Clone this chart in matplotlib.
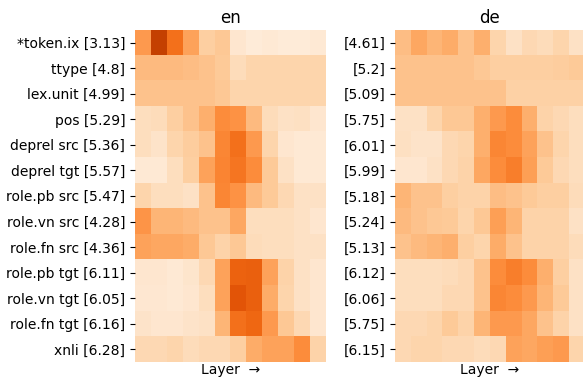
import matplotlib
matplotlib.use("Agg")
import matplotlib.pyplot as plt
import numpy as np

# row labels (probe tasks) and per-language scores
tasks = ["*token.ix", "ttype", "lex.unit", "pos", "deprel src", "deprel tgt",
         "role.pb src", "role.vn src", "role.fn src", "role.pb tgt",
         "role.vn tgt", "role.fn tgt", "xnli"]
en_scores = ["3.13", "4.8", "4.99", "5.29", "5.36", "5.57", "5.47", "4.28",
             "4.36", "6.11", "6.05", "6.16", "6.28"]
de_scores = ["4.61", "5.2", "5.09", "5.75", "6.01", "5.99", "5.18", "5.24",
             "5.13", "6.12", "6.06", "5.75", "6.15"]

# layer-wise weights (12 layers)
en_weights = np.array([
    [0.45, 0.80, 0.60, 0.42, 0.25, 0.28, 0.12, 0.08, 0.10, 0.08, 0.08, 0.10],
    [0.33, 0.33, 0.33, 0.32, 0.30, 0.27, 0.18, 0.22, 0.22, 0.22, 0.22, 0.22],
    [0.30, 0.30, 0.30, 0.30, 0.30, 0.28, 0.22, 0.22, 0.22, 0.22, 0.22, 0.22],
    [0.17, 0.18, 0.25, 0.30, 0.37, 0.50, 0.48, 0.33, 0.18, 0.15, 0.16, 0.12],
    [0.17, 0.14, 0.22, 0.26, 0.30, 0.52, 0.60, 0.45, 0.22, 0.12, 0.10, 0.10],
    [0.10, 0.10, 0.17, 0.25, 0.42, 0.53, 0.58, 0.50, 0.27, 0.15, 0.10, 0.10],
    [0.22, 0.17, 0.17, 0.15, 0.30, 0.52, 0.48, 0.33, 0.27, 0.20, 0.15, 0.15],
    [0.47, 0.35, 0.35, 0.33, 0.30, 0.30, 0.40, 0.17, 0.17, 0.17, 0.15, 0.12],
    [0.42, 0.40, 0.40, 0.38, 0.28, 0.23, 0.28, 0.18, 0.17, 0.17, 0.15, 0.15],
    [0.12, 0.12, 0.10, 0.13, 0.20, 0.42, 0.65, 0.66, 0.42, 0.23, 0.15, 0.12],
    [0.11, 0.11, 0.10, 0.12, 0.17, 0.42, 0.70, 0.66, 0.38, 0.22, 0.15, 0.12],
    [0.14, 0.12, 0.12, 0.14, 0.15, 0.35, 0.60, 0.63, 0.45, 0.28, 0.20, 0.12],
    [0.20, 0.20, 0.22, 0.18, 0.20, 0.20, 0.25, 0.38, 0.42, 0.42, 0.50, 0.23],
])
de_weights = np.array([
    [0.32, 0.40, 0.35, 0.38, 0.30, 0.37, 0.22, 0.15, 0.20, 0.18, 0.22, 0.15],
    [0.30, 0.30, 0.30, 0.30, 0.30, 0.28, 0.25, 0.25, 0.25, 0.25, 0.26, 0.27],
    [0.30, 0.30, 0.30, 0.30, 0.30, 0.30, 0.30, 0.24, 0.24, 0.24, 0.24, 0.24],
    [0.15, 0.15, 0.22, 0.28, 0.28, 0.37, 0.45, 0.50, 0.37, 0.23, 0.20, 0.17],
    [0.16, 0.14, 0.14, 0.20, 0.22, 0.37, 0.52, 0.50, 0.42, 0.30, 0.22, 0.17],
    [0.12, 0.12, 0.15, 0.20, 0.23, 0.40, 0.50, 0.55, 0.43, 0.27, 0.20, 0.17],
    [0.35, 0.30, 0.30, 0.25, 0.23, 0.23, 0.32, 0.30, 0.27, 0.25, 0.25, 0.18],
    [0.33, 0.30, 0.28, 0.27, 0.22, 0.28, 0.43, 0.35, 0.23, 0.23, 0.23, 0.15],
    [0.30, 0.33, 0.35, 0.37, 0.25, 0.22, 0.38, 0.30, 0.23, 0.23, 0.23, 0.18],
    [0.17, 0.17, 0.17, 0.18, 0.20, 0.30, 0.50, 0.55, 0.50, 0.37, 0.25, 0.15],
    [0.17, 0.17, 0.17, 0.20, 0.20, 0.30, 0.52, 0.50, 0.45, 0.35, 0.27, 0.15],
    [0.20, 0.20, 0.22, 0.27, 0.23, 0.35, 0.45, 0.45, 0.40, 0.30, 0.23, 0.15],
    [0.20, 0.22, 0.22, 0.20, 0.20, 0.18, 0.20, 0.42, 0.40, 0.43, 0.45, 0.22],
])

fig = plt.figure(figsize=(5.83, 3.80), dpi=100)
ax_en = fig.add_axes([135 / 583, 18 / 380, 191 / 583, 332 / 380])
ax_de = fig.add_axes([395 / 583, 18 / 380, 190 / 583, 332 / 380])

panels = [
    (ax_en, en_weights, "en", [f"{t} [{s}]" for t, s in zip(tasks, en_scores)]),
    (ax_de, de_weights, "de", [f"[{s}]" for s in de_scores]),
]
for ax, w, name, labels in panels:
    ax.imshow(w, cmap="Oranges", vmin=0, vmax=1, aspect="auto",
              interpolation="nearest")
    ax.set_yticks(np.arange(len(labels)))
    ax.set_yticklabels(labels, fontsize=10)
    ax.set_xticks([])
    ax.set_xlabel("Layer  \u2192", fontsize=10, labelpad=1)
    ax.set_title(name, fontsize=12, pad=5)
    for s in ax.spines.values():
        s.set_visible(False)

fig.savefig("out.png", dpi=100)
